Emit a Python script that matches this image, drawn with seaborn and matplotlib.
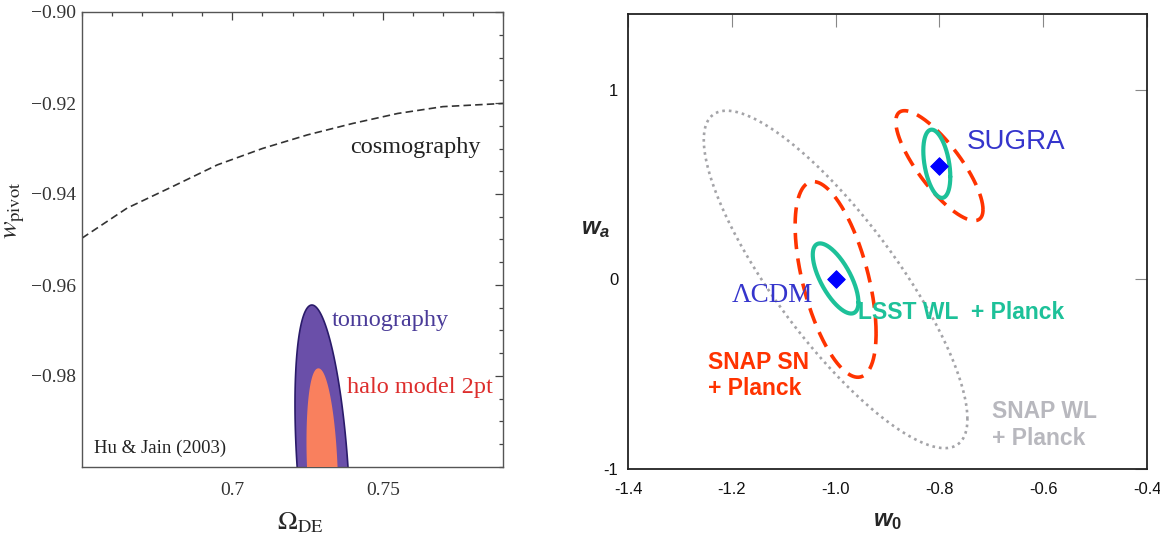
import numpy as np
import pandas as pd
import matplotlib
matplotlib.use("Agg")
import matplotlib.pyplot as plt
from matplotlib.ticker import MultipleLocator, FuncFormatter
import seaborn as sns

# --- left panel: w_pivot vs Omega_DE (Hu & Jain 2003) ---
omega_de = [0.650, 0.665, 0.680, 0.695, 0.710, 0.725, 0.740, 0.755, 0.770, 0.790]
w_cosmography = [-0.9497, -0.9431, -0.9384, -0.9336, -0.9300, -0.9270, -0.9245, -0.9223, -0.9208, -0.9201]

# filled contours: centre, half-width at centre, half-height, shear
blob_names = ["tomography", "halo model 2pt"]
blob_cx = [0.7300, 0.7299]
blob_cy = [-1.0, -1.0]
blob_halfw = [0.00845, 0.0048]
blob_halfh = [0.0356, 0.0215]
blob_shear = [-0.10, -0.06]
blob_fill = ["#6a4fa9", "#f9805e"]
blob_edge = ["#2a1b6a", "#f9805e"]

left_yticks = [-0.98, -0.96, -0.94, -0.92, -0.90]
left_xticks = [0.7, 0.75]
left_xticklabels = ["0.7", "0.75"]

# --- right panel: w_a vs w_0 forecasts ---
ell_names = ["SNAP WL + Planck", "SNAP SN + Planck", "LSST WL + Planck",
             "SNAP SN + Planck", "LSST WL + Planck"]
ell_w0 = [-1.0, -1.0, -1.0, -0.8, -0.805]
ell_wa = [0.0, 0.0, 0.005, 0.60, 0.61]
ell_sig_w0 = [0.254, 0.078, 0.044, 0.084, 0.026]
ell_sig_wa = [0.890, 0.516, 0.185, 0.290, 0.180]
ell_rho = [-0.827, -0.55, -0.68, -0.80, -0.38]

model_names = ["\u039bCDM", "SUGRA"]
model_w0 = [-1.0, -0.8]
model_wa = [0.0, 0.6]

right_xticks = [-1.4, -1.2, -1.0, -0.8, -0.6, -0.4]
right_xticklabels = ["-1.4", "-1.2", "-1.0", "-0.8", "-0.6", "-0.4"]
right_yticks = [-1, 0, 1]
right_yticklabels = ["-1", "0", "1"]

sns.set_style("white")
plt.rcParams["font.family"] = ["Liberation Serif", "DejaVu Serif"]
plt.rcParams["mathtext.fontset"] = "stix"
plt.rcParams["mathtext.it"] = "Liberation Sans:italic:bold"
plt.rcParams["mathtext.rm"] = "Liberation Sans:bold"

fig = plt.figure(figsize=(11.6, 5.33), dpi=100)
axl = fig.add_axes([82 / 1160, 66 / 533, 421 / 1160, 455 / 533])
axr = fig.add_axes([628 / 1160, 64 / 533, 519 / 1160, 455 / 533])

t = np.linspace(0, 2 * np.pi, 400)

# left panel
for i in range(len(blob_names)):
    bx = blob_cx[i] + blob_halfw[i] * np.cos(t) + blob_shear[i] * blob_halfh[i] * np.sin(t)
    by = blob_cy[i] + blob_halfh[i] * np.sin(t)
    axl.fill(bx, by, facecolor=blob_fill[i], edgecolor=blob_edge[i], lw=1.2, zorder=2 + i)

cosmo = pd.DataFrame({"omega": omega_de, "w": w_cosmography})
sns.lineplot(data=cosmo, x="omega", y="w", ax=axl, color="#333333", lw=1.2,
             linestyle=(0, (4.5, 2.5)), estimator=None)

axl.set_xlim(0.65, 0.79)
axl.set_ylim(-1.0, -0.90)
axl.set_xticks(left_xticks)
axl.set_xticklabels(left_xticklabels)
axl.set_yticks(left_yticks)
axl.yaxis.set_major_formatter(FuncFormatter(lambda v, p: f"{v:.2f}".replace("-", "\u2212")))
axl.xaxis.set_minor_locator(MultipleLocator(0.01))
axl.yaxis.set_minor_locator(MultipleLocator(0.005))
axl.tick_params(which="both", direction="in", top=True, right=True, color="#444444",
                labelsize=14, labelcolor="#333333")
axl.tick_params(axis="x", which="major", pad=11)
axl.tick_params(axis="y", which="major", pad=4)
axl.tick_params(which="major", length=6, width=0.9)
axl.tick_params(which="minor", length=3, width=0.9)
for s in axl.spines.values():
    s.set_color("#555555")
    s.set_linewidth(1.0)
axl.set_xlabel(r"$\Omega_{\rm DE}$", fontsize=19, math_fontfamily="stix", va="center")
axl.set_ylabel(r"$w_{\rm pivot}$", fontsize=19, math_fontfamily="stix", va="center")
axl.xaxis.set_label_coords(0.518, -0.123)
axl.yaxis.set_label_coords(-0.158, 0.565)

axl.text(0.7391, -0.9297, "cosmography", fontsize=17.5, color="#222222", va="center")
axl.text(0.7331, -0.9677, "tomography", fontsize=17.5, color="#4a3b98", va="center")
axl.text(0.7381, -0.9826, "halo model 2pt", fontsize=17.5, color="#dd2d2c", va="center")
axl.text(0.654, -0.9958, "Hu & Jain (2003)", fontsize=13.5, color="#222222", va="center")

# right panel
styles = {
    "SNAP WL + Planck": dict(color="#a4a4a8", lw=1.9, linestyle=(0, (1, 1.5))),
    "SNAP SN + Planck": dict(color="#ff3300", lw=2.6, linestyle=(0, (4.5, 2.6))),
    "LSST WL + Planck": dict(color="#1dc199", lw=3.0, linestyle="-"),
}
for i in range(len(ell_names)):
    phi = np.arccos(ell_rho[i])
    ex = ell_w0[i] + ell_sig_w0[i] * np.cos(t)
    ey = ell_wa[i] + ell_sig_wa[i] * np.cos(t - phi)
    outline = pd.DataFrame({"w0": ex, "wa": ey})
    sns.lineplot(data=outline, x="w0", y="wa", sort=False, estimator=None,
                 ax=axr, **styles[ell_names[i]])

models = pd.DataFrame({"w0": model_w0, "wa": model_wa, "name": model_names})
sns.scatterplot(data=models, x="w0", y="wa", marker="D", s=80, color="#0000ff",
                edgecolor="#0000ff", ax=axr, zorder=5)

axr.set_xlim(-1.4, -0.4)
axr.set_ylim(-1.0, 1.4)
axr.set_xticks(right_xticks)
axr.set_xticklabels(right_xticklabels, family="Liberation Sans")
axr.set_yticks(right_yticks)
axr.set_yticklabels(right_yticklabels, family="Liberation Sans")
axr.tick_params(direction="in", top=True, right=True, length=9, width=0.8,
                color="#888888", labelsize=12, labelcolor="#111111")
axr.tick_params(axis="x", pad=9)
axr.tick_params(axis="y", pad=7)
for s in axr.spines.values():
    s.set_color("#222222")
    s.set_linewidth(1.3)
axr.set_xlabel(r"$w_0$", fontsize=17, math_fontfamily="custom", va="center")
axr.set_ylabel(r"$w_a$", fontsize=17, math_fontfamily="custom", rotation=0,
               va="center", ha="center")
axr.xaxis.set_label_coords(0.5, -0.116)
axr.yaxis.set_label_coords(-0.062, 0.526)

sans = ["Liberation Sans", "DejaVu Sans"]
axr.text(-0.747, 0.726, "SUGRA", fontsize=20, color="#3535cc", va="center", family=sans)
axr.text(-1.2, -0.084, "\u039bCDM", fontsize=19.5, color="#3535cc", va="center",
         family=["Liberation Serif", "DejaVu Serif"])
axr.text(-0.956, -0.174, "LSST WL  + Planck", fontsize=16.5, color="#1dc199",
         fontweight="bold", va="center", family=sans)
axr.text(-1.245, -0.506, "SNAP SN\n+ Planck", fontsize=16.5, color="#ff3300",
         fontweight="bold", va="center", linespacing=1.2, family=sans)
axr.text(-0.699, -0.767, "SNAP WL\n+ Planck", fontsize=16.5, color="#b8b8be",
         fontweight="bold", va="center", linespacing=1.2, family=sans)

plt.savefig("out.png", dpi=100)
